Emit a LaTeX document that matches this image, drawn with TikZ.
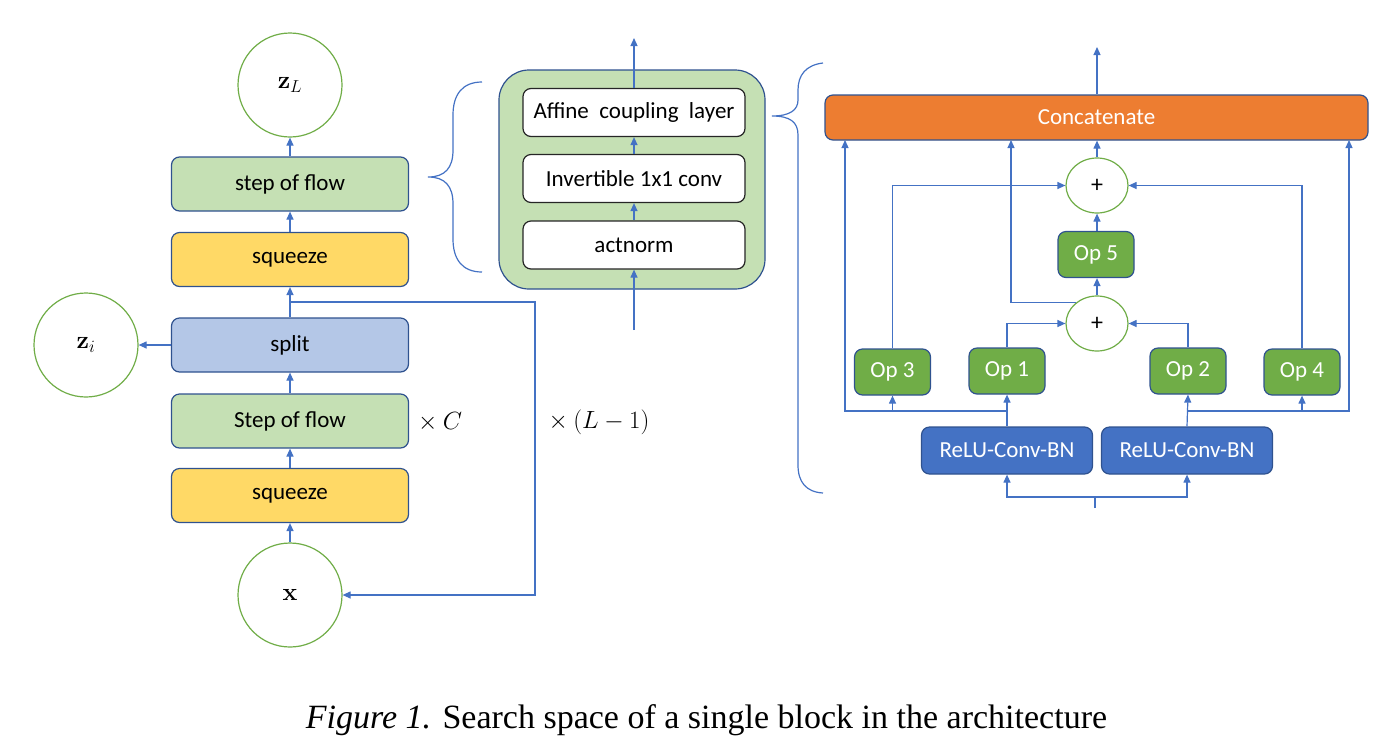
\documentclass[tikz,border=0pt]{standalone}
\usepackage[no-math]{fontspec}
\setmainfont{Carlito}
\newfontfamily\capfont{Liberation Serif}
\usetikzlibrary{arrows.meta,shapes.geometric}
\definecolor{arrowblue}{HTML}{4472C4}
\definecolor{edgeblue}{HTML}{2F528F}
\definecolor{circgreen}{HTML}{70AD47}
\definecolor{lgreen}{HTML}{C5E0B4}
\definecolor{lyellow}{HTML}{FFD966}
\definecolor{lblue}{HTML}{B4C7E7}
\definecolor{opgreen}{HTML}{70AD47}
\definecolor{relublue}{HTML}{4472C4}
\definecolor{corange}{HTML}{ED7D31}
\tikzset{
  lbl/.style={font=\fontsize{23}{27}\selectfont},
  flowbox/.style={lbl, draw=edgeblue, line width=1.2pt, rounded corners=8pt,
    minimum width=237pt, minimum height=54pt, inner sep=0pt},
  circ/.style={circle, draw=circgreen, line width=1.2pt, fill=white,
    minimum size=104pt, inner sep=0pt, font=\fontsize{27}{31}\selectfont},
  arr/.style={draw=arrowblue, line width=1.2pt, -{Triangle[length=8pt,width=7pt]}},
  ln/.style={draw=arrowblue, line width=1.2pt},
  innerbox/.style={lbl, draw=black!85, fill=white, line width=1.2pt, rounded corners=8pt,
    minimum width=222pt, minimum height=48pt, inner sep=0pt},
  opbox/.style={lbl, draw=edgeblue, fill=opgreen, text=white, line width=1.2pt,
    rounded corners=8pt, minimum width=76pt, minimum height=46pt, inner sep=0pt},
  relubox/.style={lbl, draw=edgeblue, fill=relublue, text=white, line width=1.2pt,
    rounded corners=8pt, minimum width=171pt, minimum height=47pt, inner sep=0pt},
  plusnode/.style={ellipse, draw=circgreen, fill=white, line width=1.2pt,
    minimum width=62pt, minimum height=55pt, inner sep=0pt, font=\fontsize{24}{28}\selectfont},
  mathlbl/.style={font=\fontsize{24}{28}\selectfont},
}
\begin{document}
\begin{tikzpicture}[x=1pt,y=-1pt]
\useasboundingbox (0,0) rectangle (1375,753);
% ---------------- left column ----------------
\node[circ] (zL) at (290,85) {$\mathbf{z}_L$};
\node[flowbox, fill=lgreen] (sof1) at (290,184) {step of flow};
\node[flowbox, fill=lyellow] (sq1) at (290,259.5) {squeeze};
\node[flowbox, fill=lblue] (split) at (290,345) {split};
\node[flowbox, fill=lgreen] (sof2) at (290,421) {Step of flow};
\node[flowbox, fill=lyellow] (sq2) at (290,495.5) {squeeze};
\node[circ] (x) at (290,595) {$\mathbf{x}$};
\node[circ] (zi) at (86,345) {$\mathbf{z}_i$};
\node[mathlbl] (tC) at (440,422) {$\times\ C$};
\node[mathlbl] (tL) at (599,422) {$\times\ (L-1)$};

\draw[arr] (sof1.north) -- (zL.south);
\draw[arr] (sq1.north) -- (sof1.south);
\draw[arr] (split.north) -- (sq1.south);
\draw[arr] (sof2.north) -- (split.south);
\draw[arr] (sq2.north) -- (sof2.south);
\draw[arr] (x.north) -- (sq2.south);
\draw[arr] (split.west) -- (zi.east);
\coordinate (j1) at (290,302);
\coordinate (loopTR) at (535,302);
\coordinate (loopBR) at (535,595);
\draw[arr] (j1) -- (loopTR) -- (loopBR) -- (x.east);

% left brace
\draw[ln] (482,82) .. controls (462,82) and (453,95) .. (453,115) -- (453,150)
  .. controls (453,168) and (445,177) .. (428,177)
  .. controls (445,177) and (453,186) .. (453,204) -- (453,239)
  .. controls (453,259) and (462,272) .. (482,272);

% ---------------- middle block ----------------
\node[draw=edgeblue, fill=lgreen, line width=1.2pt, rounded corners=30pt,
  minimum width=266pt, minimum height=219pt, inner sep=0pt] (outer) at (632,179.5) {};
\node[innerbox] (aff) at (634,112.5) {Affine\ \ coupling\ \ layer};
\node[innerbox] (inv) at (634,178.5) {Invertible 1x1 conv};
\node[innerbox] (act) at (634,245) {actnorm};
\coordinate (mtop) at (634,38);
\coordinate (mbot) at (634,330);
\draw[arr] (aff.north) -- (mtop);
\draw[arr] (inv.north) -- (aff.south);
\draw[arr] (act.north) -- (inv.south);
\draw[arr] (mbot) -- (act.south);

% right brace
\draw[ln] (823,63) .. controls (806,65) and (798,75) .. (798,90) -- (798,100)
  .. controls (798,110) and (790,116) .. (772,116)
  .. controls (790,116) and (798,122) .. (798,135) -- (798,465)
  .. controls (798,482) and (806,492) .. (823,493);

% ---------------- right block ----------------
\node[lbl, draw=edgeblue, fill=corange, text=white, line width=1.2pt, rounded corners=8pt,
  minimum width=543pt, minimum height=45pt, inner sep=0pt] (cat) at (1096.5,117.5) {Concatenate};
\node[plusnode] (pT) at (1097,185.5) {+};
\node[opbox] (op5) at (1096,254.5) {Op 5};
\node[plusnode] (pB) at (1097,323.5) {+};
\node[opbox] (op3) at (892.5,372) {Op 3};
\node[opbox] (op1) at (1007,371) {Op 1};
\node[opbox] (op2) at (1188,371) {Op 2};
\node[opbox] (op4) at (1302,372) {Op 4};
\node[relubox] (r1) at (1007,450.5) {ReLU-Conv-BN};
\node[relubox] (r2) at (1187,450.5) {ReLU-Conv-BN};

\coordinate (ctop) at (1097,47);
\draw[arr] (cat.north -| pT.north) -- (ctop);
\draw[arr] (pT.north) -- (pT.north |- cat.south);
\draw[arr] (op5.north -| pT.south) -- (pT.south);
\draw[arr] (pB.north) -- (pB.north |- op5.south);
\draw[arr] (op3.north) |- (pT.west);
\draw[arr] (op4.north) |- (pT.east);
\draw[arr] (op1.north) |- (pB.west);
\draw[arr] (op2.north) |- (pB.east);
\coordinate (c2) at (1011,140);
\draw[arr] (pB.135) -| (c2);

\draw[arr] (r1.north) -- (op1.south);
\draw[arr] (r2.north) -- (op2.south);
\coordinate (jl) at (1007,411);
\coordinate (cL) at (845,140);
\coordinate (j3) at (892.5,411);
\coordinate (jr) at (1188,411);
\coordinate (cR) at (1349,140);
\coordinate (j4) at (1302,411);
\draw[arr] (jl) -| (cL);
\draw[arr] (j3) -- (op3.south);
\draw[arr] (jr) -| (cR);
\draw[arr] (j4) -- (op4.south);

\coordinate (in0) at (1095,508);
\coordinate (in1) at (1095,497);
\draw[ln] (in0) -- (in1);
\draw[arr] (in1) -| (r1.south);
\draw[arr] (in1) -| (r2.south);

% caption
\node[font=\capfont\fontsize{34}{40}\selectfont, anchor=base, inner sep=0pt] (cap) at (706.5,728)
  {\textit{Figure 1.} Search space of a single block in the architecture};
\end{tikzpicture}
\end{document}
